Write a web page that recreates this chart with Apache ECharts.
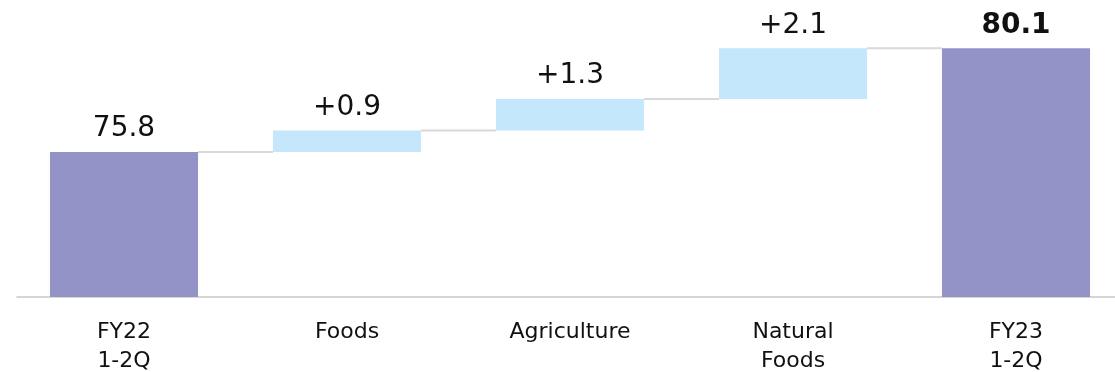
<!DOCTYPE html>
<html>
<head>
<meta charset="utf-8">
<script src="https://cdn.jsdelivr.net/npm/echarts@6/dist/echarts.min.js"></script>
<style>
html,body{margin:0;padding:0;background:#fff;}
#c{width:1115px;height:372px;}
</style>
</head>
<body>
<div id="c"></div>
<script>
const categories = ['FY22\n1-2Q', 'Foods', 'Agriculture', 'Natural\nFoods', 'FY23\n1-2Q'];
const startValue = 75.8;
const deltas = [0.9, 1.3, 2.1];
const endValue = 80.1;
const yMin = 69.8;
const yMax = 82.1;

// derived series
const baseData = ['-'];
const deltaData = ['-'];
const levels = [startValue];
let run = startValue;
deltas.forEach(d => {
  baseData.push(run);
  deltaData.push(d);
  run = +(run + d).toFixed(1);
  levels.push(run);
});
baseData.push('-');
deltaData.push('-');
const connectorData = levels.map((v, i) => [i, v]);

const FONT = 'DejaVu Sans';
const BAR_RATIO = 0.664;

const totalData = [startValue, '-', '-', '-', endValue].map((v, i) =>
  i === 4 ? {value: v, label: {fontWeight: 'bold'}} : v);

const chart = echarts.init(document.getElementById('c'), null, {renderer: 'canvas'});
chart.setOption({
  animation: false,
  backgroundColor: '#ffffff',
  grid: [
    {left: 12.5, width: 1115, top: 0, height: 297, containLabel: false, outerBoundsMode: 'none'},
    {left: 17, right: 0, top: 0, height: 297, containLabel: false, outerBoundsMode: 'none'}
  ],
  xAxis: [
    {
      type: 'category', gridIndex: 0, data: categories,
      axisLine: {show: false}, axisTick: {show: false},
      axisLabel: {fontFamily: FONT, fontSize: 22, color: '#111111', lineHeight: 29, margin: 21, interval: 0}
    },
    {
      type: 'category', gridIndex: 1, data: categories,
      axisLine: {show: true, lineStyle: {color: '#c8c8c8', width: 1.5}},
      axisTick: {show: false}, axisLabel: {show: false}
    }
  ],
  yAxis: [
    {type: 'value', gridIndex: 0, min: yMin, max: yMax, show: false, splitLine: {show: false}},
    {type: 'value', gridIndex: 1, min: yMin, max: yMax, show: false, splitLine: {show: false}}
  ],
  series: [
    {
      type: 'bar', stack: 'w', data: baseData, barWidth: (BAR_RATIO * 100) + '%',
      itemStyle: {color: 'transparent'}, silent: true
    },
    {
      type: 'bar', stack: 'w', data: deltaData, barWidth: (BAR_RATIO * 100) + '%',
      itemStyle: {color: '#c5e7fb'},
      label: {
        show: true, position: 'top', distance: 9,
        fontFamily: FONT, fontSize: 28, color: '#111111',
        formatter: p => '+' + p.value.toFixed(1)
      }
    },
    {
      type: 'bar', stack: 't', data: totalData, barWidth: (BAR_RATIO * 100) + '%', barGap: '-100%',
      itemStyle: {color: '#9393c7'},
      label: {
        show: true, position: 'top', distance: 9,
        fontFamily: FONT, fontSize: 28, color: '#111111',
        formatter: p => p.value.toFixed(1)
      }
    },
    {
      type: 'custom',
      data: connectorData,
      z: 1,
      renderItem: function (params, api) {
        const i = api.value(0);
        const v = api.value(1);
        const bw = api.size([1, 0])[0] * BAR_RATIO;
        const p0 = api.coord([i, v]);
        const p1 = api.coord([i + 1, v]);
        return {
          type: 'line',
          shape: {x1: p0[0] + bw / 2, y1: p0[1], x2: p1[0] - bw / 2, y2: p1[1]},
          style: {stroke: '#d9d9d9', lineWidth: 2}
        };
      }
    }
  ]
});
</script>
</body>
</html>
